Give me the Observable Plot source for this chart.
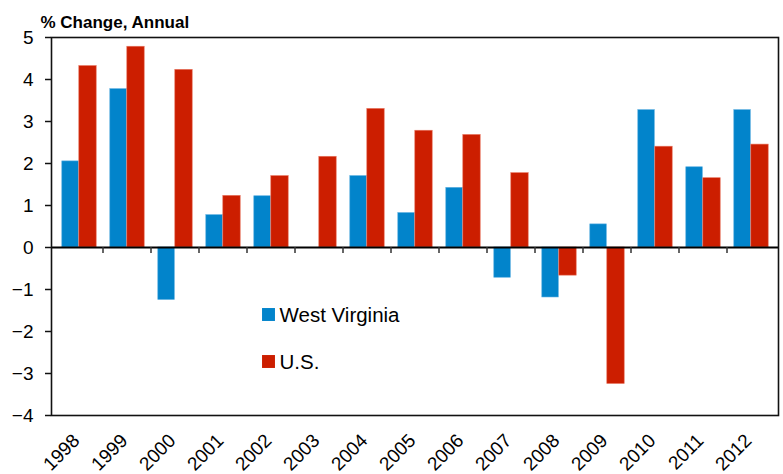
<!DOCTYPE html>
<html><head><meta charset="utf-8">
<script src="https://cdn.jsdelivr.net/npm/d3@7"></script>
<script src="https://cdn.jsdelivr.net/npm/@observablehq/plot@0.6"></script>
<style>
body{margin:0;background:#fff;font-family:"Liberation Sans",Arial,Helvetica,sans-serif}
svg{display:block}
</style>
</head><body><div id="chart"></div>
<script>
const years = ["1998","1999","2000","2001","2002","2003","2004","2005","2006","2007","2008","2009","2010","2011","2012"];
const series = ["West Virginia", "U.S."];
const westVirginia = [2.05, 3.77, -1.25, 0.77, 1.22, 0, 1.70, 0.82, 1.42, -0.72, -1.19, 0.55, 3.27, 1.91, 3.27];
const us = [4.32, 4.78, 4.23, 1.23, 1.70, 2.16, 3.30, 2.78, 2.68, 1.77, -0.67, -3.25, 2.40, 1.65, 2.45];
const yTicks = [-4, -3, -2, -1, 0, 1, 2, 3, 4, 5];
const yLabel = "% Change, Annual";
const colors = ["#0284CB", "#CC1E00"];

const wvData = years.map((year, i) => ({year, value: westVirginia[i]}));
const usData = years.map((year, i) => ({year, value: us[i]}));

function boundaryTicks(index, scales) {
  const x = scales.x, y = scales.y;
  const g = d3.create("svg:g").attr("stroke", "#333").attr("stroke-width", 1.5);
  years.slice(1).forEach(yr => {
    const px = x(yr);
    g.append("line").attr("x1", px).attr("x2", px).attr("y1", y(0)).attr("y2", y(0) + 6);
  });
  return g.node();
}

const font = '"Liberation Sans", Arial, Helvetica, sans-serif';

function legendEntry(i, dy) {
  return [
    Plot.dot([series[i]], {frameAnchor: "top-left", dx: 217, dy: dy, symbol: "square", r: 7.3, fill: colors[i], stroke: null}),
    Plot.text([series[i]], {frameAnchor: "top-left", dx: 228, dy: dy + 1, text: d => d, textAnchor: "start", lineAnchor: "middle", fontSize: 20.5, fill: "#000"})
  ];
}

const chart = Plot.plot({
  width: 783,
  height: 474,
  marginLeft: 51,
  marginRight: 5,
  marginTop: 37,
  marginBottom: 59,
  style: {fontFamily: font, background: "#fff", color: "#000"},
  x: {domain: years, padding: 0, label: null},
  y: {domain: [-4, 5], label: null},
  marks: [
    Plot.barY(wvData, {x: "year", y: "value", fill: colors[0], insetLeft: 6.8, insetRight: 24.7, stroke: "#5aaee0", strokeWidth: 0.6}),
    Plot.barY(usData, {x: "year", y: "value", fill: colors[1], insetLeft: 23.8, insetRight: 6.8, stroke: "#e8755f", strokeWidth: 0.6}),
    Plot.ruleY([0], {stroke: "#000", strokeWidth: 2}),
    boundaryTicks,
    Plot.frame({stroke: "#111", strokeWidth: 1.6}),
    Plot.axisY({ticks: yTicks, tickSize: 6, tickPadding: 12, fontSize: 19, label: null, stroke: "#111", strokeWidth: 1.5}),
    Plot.axisX({tickSize: 0, tickRotate: -45, tickPadding: 22, fontSize: 19, label: null, dx: -3}),
    Plot.text([yLabel], {frameAnchor: "top-left", dx: -11, dy: -10, lineAnchor: "bottom", textAnchor: "start", fontSize: 17, fontWeight: "bold", fill: "#000", style: "letter-spacing:-0.4px"}),
    ...legendEntry(0, 277),
    ...legendEntry(1, 324)
  ]
});
document.getElementById("chart").appendChild(chart);
</script>
</body></html>
